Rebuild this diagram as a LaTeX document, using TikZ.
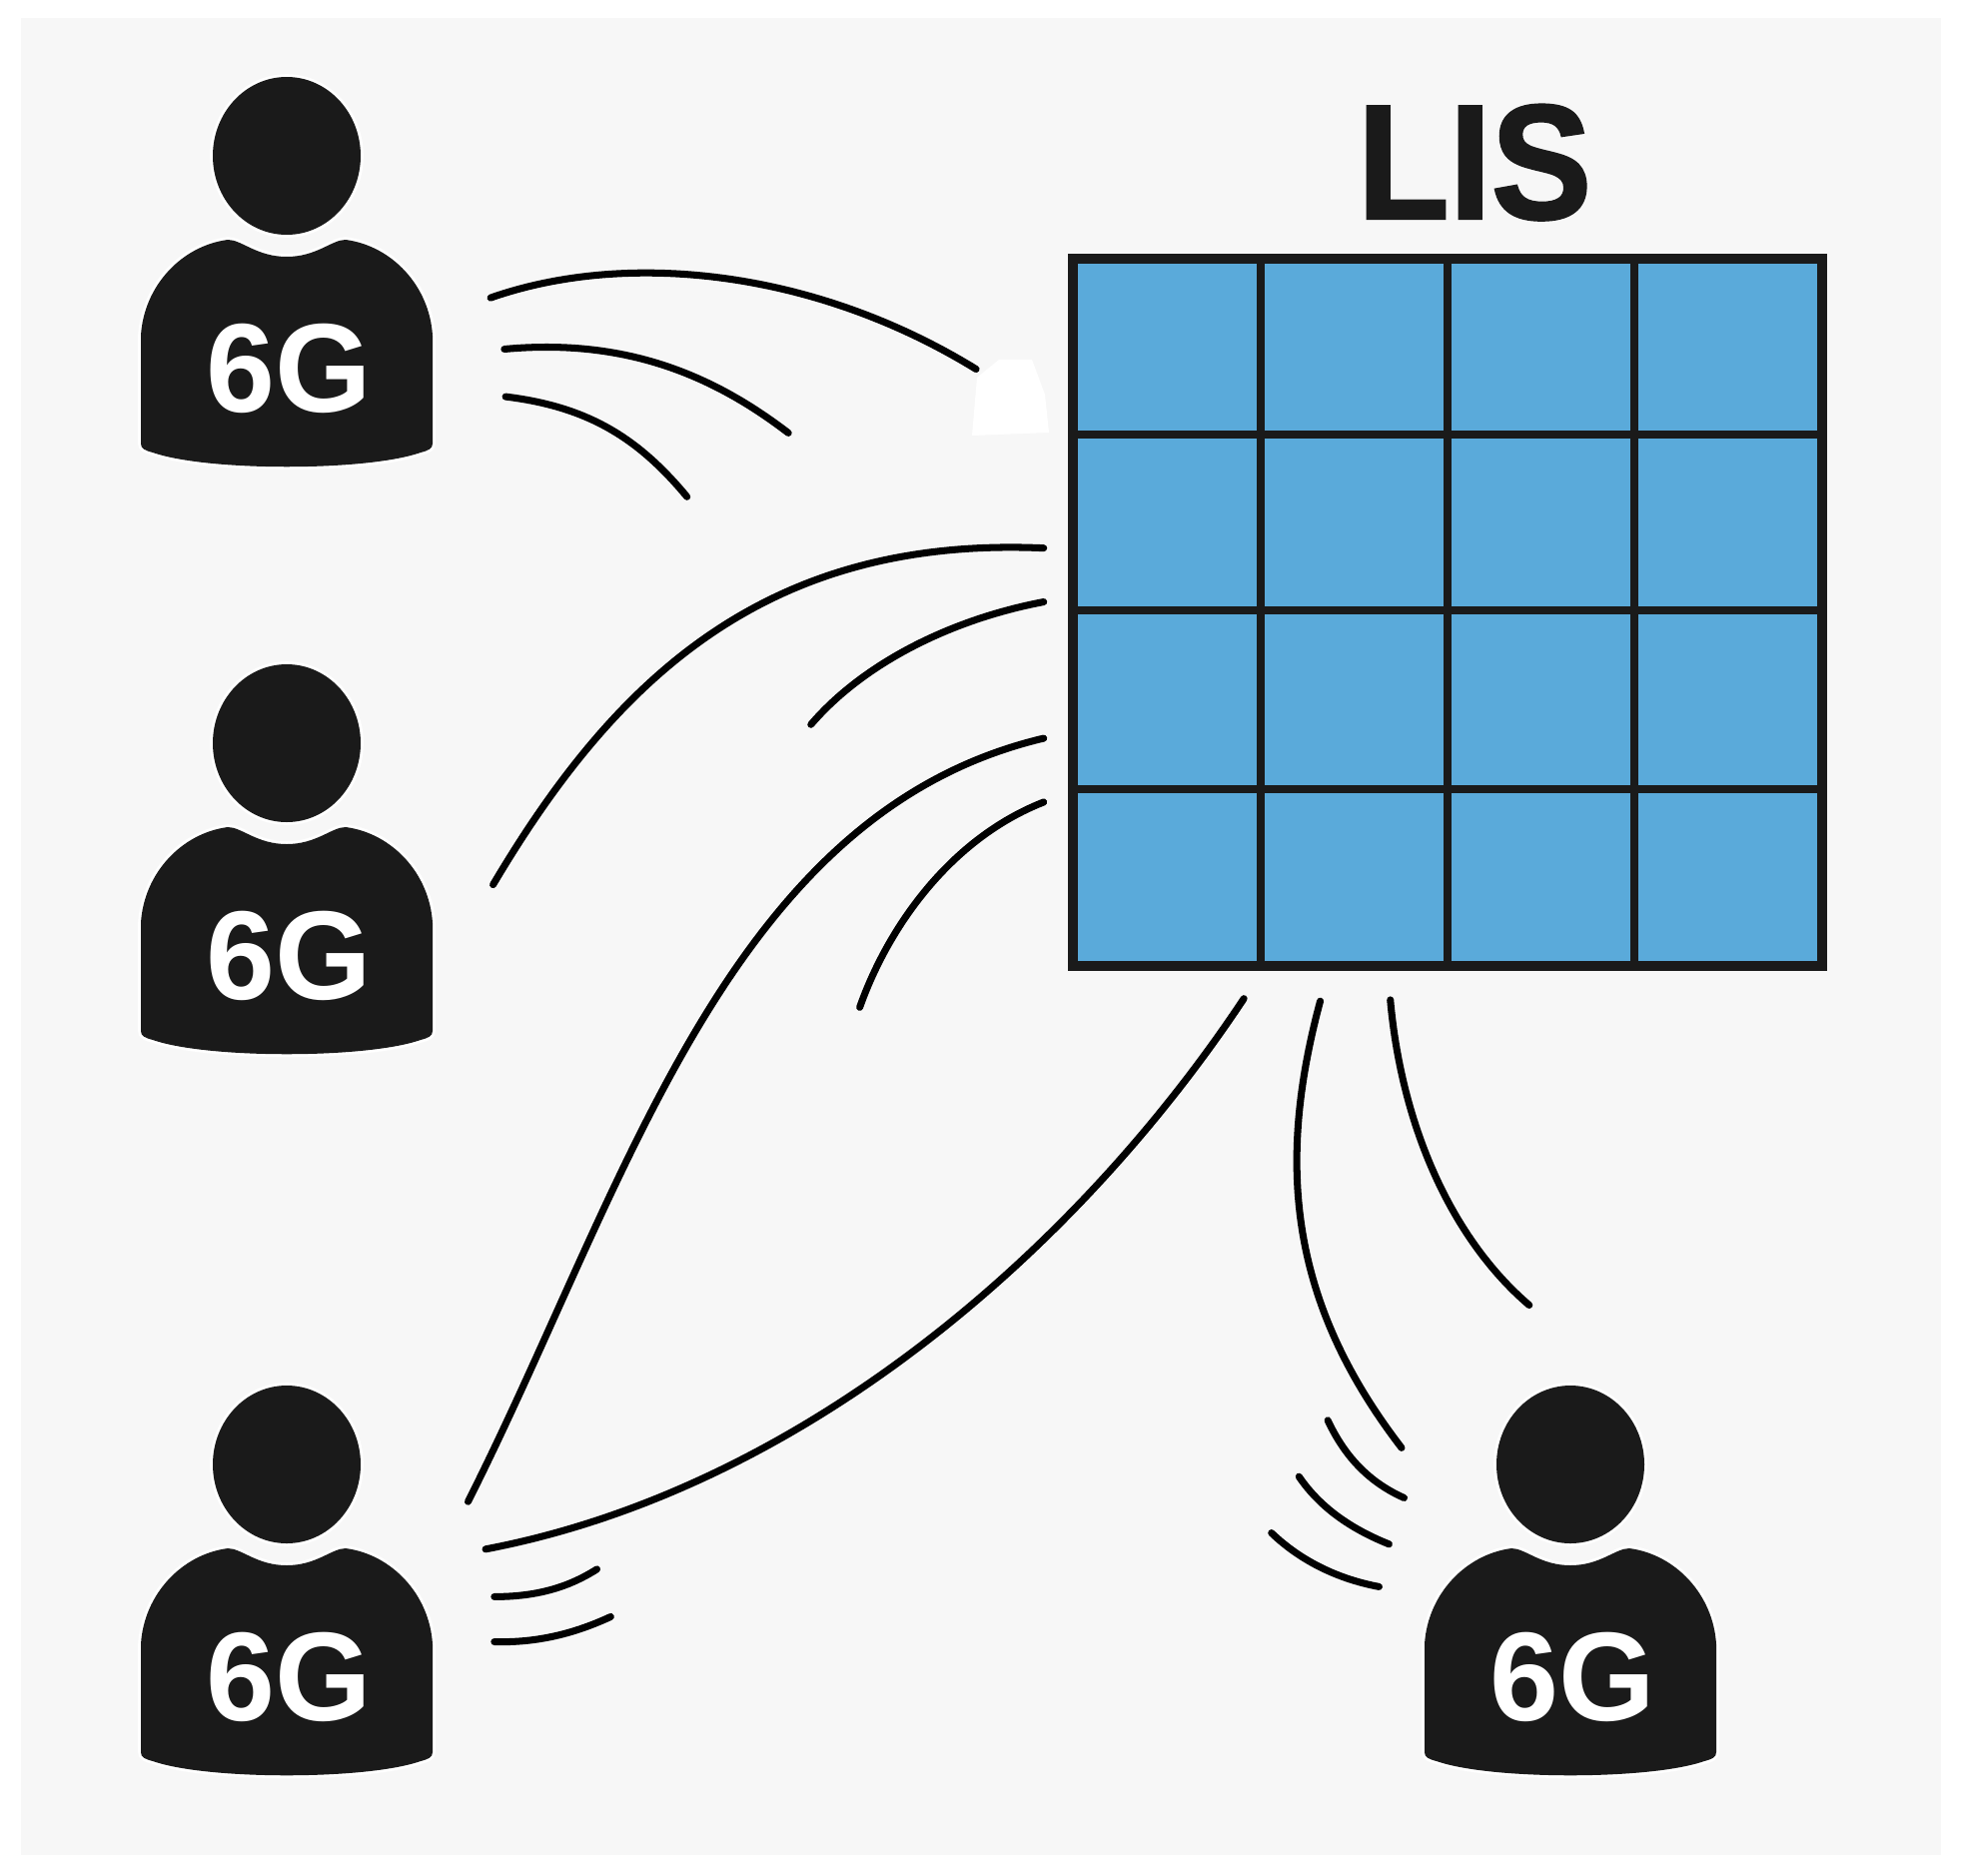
\documentclass[tikz,border=0pt]{standalone}
\usepackage{fontspec}
\setmainfont{Liberation Sans}
\newfontfamily\titlefont[FakeStretch=0.92,FakeBold=1.5]{Liberation Sans Bold}
\newfontfamily\badgefont[FakeStretch=0.98]{Liberation Sans Bold}
\definecolor{ink}{HTML}{1A1A1A}
\definecolor{paper}{HTML}{F7F7F7}
\definecolor{panel}{HTML}{5AAADA}
\tikzset{
  px/.style={x=0.05cm,y=-0.05cm},
  thumb/.style={x=0.06263cm,y=-0.06263cm},
  silhouette/.style={fill=ink,preaction={draw=white,line width=8pt,line join=round}},
  wave/.style={draw=black!95!ink,line width=10pt,line cap=round},
  badge/.style={text=white,font=\fontsize{180}{180}\badgefont,inner sep=0pt,anchor=base},
  person/.pic={
    \path[silhouette] (0,0) ellipse [x radius=74,y radius=79];
    \path[silhouette] (-59,84) .. controls (-45,84) and (-30,101) .. (0,101)
      .. controls (30,101) and (45,84) .. (59,84)
      .. controls (105,90) and (143,130) .. (146,180) -- (146,288)
      .. controls (146,293) and (142,295) .. (134,297)
      .. controls (80,316) and (-80,316) .. (-134,297)
      .. controls (-142,295) and (-146,293) .. (-146,288) -- (-146,180)
      .. controls (-143,130) and (-105,90) .. (-59,84) -- cycle;
    \node[badge] (-label) at (2,256) {6G};
  }
}
\begin{document}
\begin{tikzpicture}[px]
\useasboundingbox (0,0) rectangle (1964,1877);
\fill[white] (0,0) rectangle (1964,1877);
\fill[paper] (21,18) rectangle (1943,1857);

% people
\pic (userA) at (287,156) {person};
\pic (userB) at (287,744) {person};
\pic (userC) at (287,1466) {person};
\pic (userD) at (1572,1466) {person};

% title
\node[font=\fontsize{233}{233}\titlefont,text=ink,inner sep=0pt,anchor=base] (title) at (1476,219) {LIS};

% white patch
\fill[white] (973,436) -- (1050,433) -- (1046,395) -- (1033,360) -- (1000,360) -- (978,378) -- cycle;

% surface
\fill[panel] (1074,259) rectangle (1824,967);
\foreach \x in {1262,1449,1636} \draw[ink,line width=11pt] (\x,259) -- (\x,967);
\foreach \y in {435,611,790} \draw[ink,line width=11pt] (1074,\y) -- (1824,\y);
\draw[ink,line width=13pt] (1074,259) rectangle (1824,967);

% waves
\begin{scope}[thumb]
\draw[wave] (392,238) .. controls (500,200) and (650,215) .. (780,295);
\draw[wave] (403,279) .. controls (500,270) and (570,300) .. (630,346);
\draw[wave] (404,317) .. controls (470,325) and (510,350) .. (549,397);
\draw[wave] (394,707) .. controls (490,545) and (610,428) .. (834,438);
\draw[wave] (648,579) .. controls (690,530) and (760,495) .. (834,481);
\draw[wave] (374,1200) .. controls (500,950) and (580,650) .. (834,590);
\draw[wave] (687,805) .. controls (710,740) and (760,670) .. (834,641);
\draw[wave] (388,1238) .. controls (640,1190) and (860,1000) .. (994,798);
\draw[wave] (1055,800) .. controls (1020,930) and (1030,1040) .. (1120,1157);
\draw[wave] (1111,799) .. controls (1120,900) and (1160,990) .. (1222,1043);
\draw[wave] (1061,1135) .. controls (1075,1165) and (1095,1185) .. (1122,1197);
\draw[wave] (1038,1180) .. controls (1055,1205) and (1080,1222) .. (1110,1234);
\draw[wave] (1016,1225) .. controls (1040,1248) and (1070,1262) .. (1102,1268);
\draw[wave] (395,1276) .. controls (430,1276) and (455,1268) .. (477,1254);
\draw[wave] (395,1312) .. controls (430,1313) and (460,1305) .. (488,1292);
\end{scope}
\end{tikzpicture}
\end{document}
